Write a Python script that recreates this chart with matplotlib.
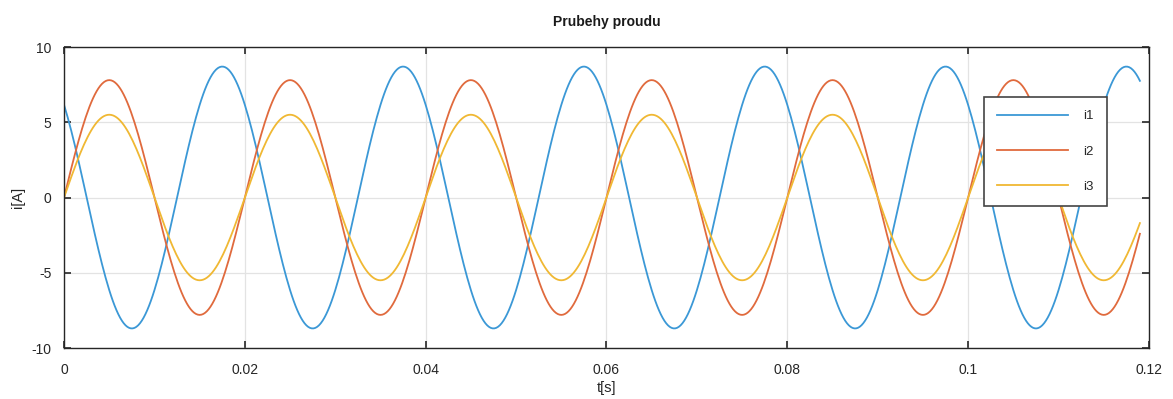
import numpy as np
import matplotlib.pyplot as plt

plt.rcParams['font.family'] = ['Liberation Sans', 'DejaVu Sans']
plt.rcParams['axes.unicode_minus'] = False

# data: 50 Hz currents, amplitude [A] and phase [deg]
freq = 50.0
t_end = 0.119
names = ['i1', 'i2', 'i3']
amplitudes = [8.7, 7.8, 5.5]
phases_deg = [135.0, 0.0, 0.0]
colors = ['#3b98d6', '#e06a3d', '#f0b833']

t = np.arange(0, t_end + 1e-9, 0.0002)

fig = plt.figure(figsize=(11.73, 3.99), dpi=100)
ax = fig.add_axes([0.0546, 0.1278, 0.9249, 0.7544])

for name, amp, ph, c in zip(names, amplitudes, phases_deg, colors):
    ax.plot(t, amp * np.sin(2 * np.pi * freq * t + np.deg2rad(ph)),
            color=c, linewidth=1.3, label=name)

ax.set_xlim(0, 0.12)
ax.set_ylim(-10, 10)
ax.set_xticks([0, 0.02, 0.04, 0.06, 0.08, 0.1, 0.12])
ax.set_xticklabels(['0', '0.02', '0.04', '0.06', '0.08', '0.1', '0.12'])
ax.set_yticks([-10, -5, 0, 5, 10])
ax.grid(True, color='#e3e3e3', linewidth=0.9)
ax.set_axisbelow(True)
ax.tick_params(direction='in', length=5, width=1.2, top=True, right=True,
               labelsize=10, colors='#262626')
ax.tick_params(axis='x', pad=11)
ax.tick_params(axis='y', pad=9)
for s in ax.spines.values():
    s.set_color('#262626')
    s.set_linewidth(1.0)

ax.set_title('Prubehy proudu', fontsize=10, fontweight='bold', pad=15, color='#1a1a1a')
ax.set_xlabel('t[s]', fontsize=10.5, color='#262626', labelpad=3)
ax.set_ylabel('i[A]', fontsize=10.5, color='#262626', labelpad=5)

leg = ax.legend(loc='upper left', bbox_to_anchor=(0.848, 0.834), fontsize=9.5,
                handlelength=5.4, labelspacing=1.75, handletextpad=1.1,
                borderpad=1.0, fancybox=False, framealpha=1, borderaxespad=0)
leg.get_frame().set_edgecolor('#444444')
leg.get_frame().set_linewidth(1.2)
for txt in leg.get_texts():
    txt.set_color('#262626')

# stretch the legend box to the reference width
fig.canvas.draw()
bb = leg.get_frame().get_bbox()
leg.get_frame().set_width(bb.width + 8)

plt.savefig('out.png')
